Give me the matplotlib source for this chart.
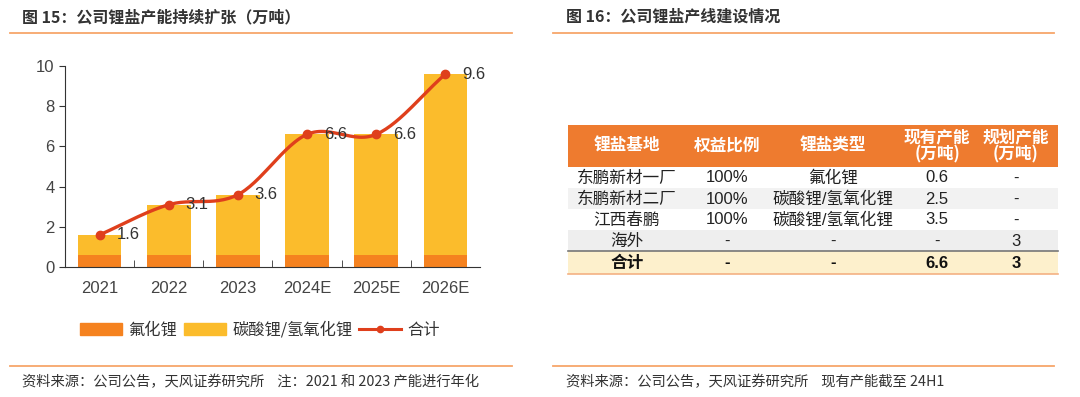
import numpy as np
import matplotlib
matplotlib.use('Agg')
import matplotlib.pyplot as plt
from matplotlib.patches import Rectangle, Patch
from matplotlib.lines import Line2D

plt.rcParams['font.family'] = ['Liberation Sans', 'Noto Sans CJK SC', 'DejaVu Sans']
CJK = ['Noto Sans CJK SC', 'DejaVu Sans']

# ---- data: left chart
years = ['2021', '2022', '2023', '2024E', '2025E', '2026E']
lif = [0.6, 0.6, 0.6, 0.6, 0.6, 0.6]              # 氟化锂
total = [1.6, 3.1, 3.6, 6.6, 6.6, 9.6]            # 合计
carb = [t - f for t, f in zip(total, lif)]        # 碳酸锂/氢氧化锂

# ---- data: right table
header = ['锂盐基地', '权益比例', '锂盐类型', '现有产能\n(万吨)', '规划产能\n(万吨)']
base = ['东鹏新材一厂', '东鹏新材二厂', '江西春鹏', '海外']
share = ['100%', '100%', '100%', '-']
salt = ['氟化锂', '碳酸锂/氢氧化锂', '碳酸锂/氢氧化锂', '-']
cap_now = ['0.6', '2.5', '3.5', '-']
cap_plan = ['-', '-', '-', '3']
sum_row = ['合计', '-', '-', '6.6', '3']

c_lif = '#F5821F'
c_carb = '#FBBC2C'
c_line = '#DF3F1C'
c_rule = '#F7A66A'
c_txt = '#333333'

fig = plt.figure(figsize=(10.8, 3.97), dpi=100)

# overlay for titles, rules, notes, table (pixel coords)
ov = fig.add_axes([0, 0, 1, 1])
ov.set_xlim(0, 1080)
ov.set_ylim(397, 0)
ov.axis('off')

ov.text(22, 17, '图 15：公司锂盐产能持续扩张（万吨）', family=CJK, fontsize=11.5,
        fontweight='bold', color=c_txt, va='center')
ov.text(566, 17, '图 16：公司锂盐产线建设情况', family=CJK, fontsize=11.5,
        fontweight='bold', color=c_txt, va='center')
for x0, x1 in [(10, 512), (553, 1054)]:
    ov.plot([x0, x1], [33, 33], color=c_rule, lw=1.3)
    ov.plot([x0, x1], [366, 366], color=c_rule, lw=1.3)
ov.text(22, 382, '资料来源：公司公告，天风证券研究所    注：2021 和 2023 产能进行年化',
        family=CJK, fontsize=10.3, color=c_txt, va='center')
ov.text(566, 382, '资料来源：公司公告，天风证券研究所    现有产能截至 24H1',
        family=CJK, fontsize=10.3, color=c_txt, va='center')

# ---- table
centers = [627, 727, 833, 937, 1016]
ov.add_patch(Rectangle((568, 125), 490, 42, color='#EE7B2F', lw=0))
for cx, h in zip(centers, header):
    ov.text(cx, 146, h, family=CJK, fontsize=12, color='white', ha='center',
            va='center', fontweight='bold', linespacing=0.95)
row_y = [167, 188, 209, 230]
row_bg = ['white', '#F2F2F2', 'white', '#EEEEEE']
for i in range(len(base)):
    y0 = row_y[i]
    ov.add_patch(Rectangle((568, y0), 490, 21, color=row_bg[i], lw=0))
    vals = [base[i], share[i], salt[i], cap_now[i], cap_plan[i]]
    for cx, v in zip(centers, vals):
        ov.text(cx, y0 + 11, v, family=['Liberation Sans'] + CJK, fontsize=12,
                color='#222222', ha='center', va='center')
ov.add_patch(Rectangle((568, 251), 490, 23, color='#FDF0CC', lw=0))
ov.plot([568, 1058], [251, 251], color='#777777', lw=1.2)
ov.plot([568, 1058], [274, 274], color='#F4B183', lw=1.2)
for cx, v in zip(centers, sum_row):
    ov.text(cx, 263, v, family=['Liberation Sans'] + CJK, fontsize=12,
            color='#111111', ha='center', va='center', fontweight='bold')

# ---- chart
ax = fig.add_axes([65 / 1080, 1 - 267 / 397, 415 / 1080, 201 / 397])
x = np.arange(len(years))
w = 0.63
ax.bar(x, lif, w, color=c_lif, label='氟化锂')
ax.bar(x, carb, w, bottom=lif, color=c_carb, label='碳酸锂/氢氧化锂')

# smooth line (Catmull-Rom through the totals)
pts = np.column_stack([x, total]).astype(float)
p = np.vstack([pts[0] * 2 - pts[1], pts, pts[-1] * 2 - pts[-2]])
xs, ys = [], []
t = np.linspace(0, 1, 30)
for i in range(1, len(p) - 2):
    p0, p1, p2, p3 = p[i - 1], p[i], p[i + 1], p[i + 2]
    seg = 0.5 * ((2 * p1)[None, :] + np.outer(t, -p0 + p2)
                 + np.outer(t ** 2, 2 * p0 - 5 * p1 + 4 * p2 - p3)
                 + np.outer(t ** 3, -p0 + 3 * p1 - 3 * p2 + p3))
    xs.extend(seg[:, 0]); ys.extend(seg[:, 1])
ax.plot(xs, ys, color=c_line, lw=2.4, zorder=3)
ax.plot(x, total, 'o', color=c_line, ms=6, zorder=4)
for xi, v in zip(x, total):
    ax.annotate(f'{v}', (xi, v), xytext=(12, 0), textcoords='offset points',
                fontsize=12, color=c_txt, va='center')

ax.set_xlim(-0.5, 5.5)
ax.set_ylim(0, 10)
ax.set_yticks([0, 2, 4, 6, 8, 10])
ax.set_xticks(x)
ax.set_xticklabels(years)
ax.set_xticks(np.arange(0.5, 5.5, 1), minor=True)
ax.tick_params(axis='x', which='major', length=0, pad=10, labelsize=12, labelcolor='#444444')
ax.tick_params(axis='x', which='minor', length=5, direction='in', color='#333333')
ax.tick_params(axis='y', length=4, labelsize=12, labelcolor='#444444', color='#333333')
for s in ['top', 'right']:
    ax.spines[s].set_visible(False)
for s in ['left', 'bottom']:
    ax.spines[s].set_color('#333333')

handles = [Patch(color=c_lif), Patch(color=c_carb),
           Line2D([0], [0], color=c_line, lw=2.2, marker='o', ms=4.5)]
labels = ['氟化锂', '碳酸锂/氢氧化锂', '合计']
fig.legend(handles, labels, loc='center', bbox_to_anchor=(260 / 1080, 1 - 330 / 397),
           ncol=3, frameon=False, prop={'family': CJK, 'size': 11.7},
           handlelength=2.6, handleheight=0.7, columnspacing=0.4, handletextpad=0.4,
           labelcolor='#333333')

fig.savefig('out.png', dpi=100, facecolor='white')
